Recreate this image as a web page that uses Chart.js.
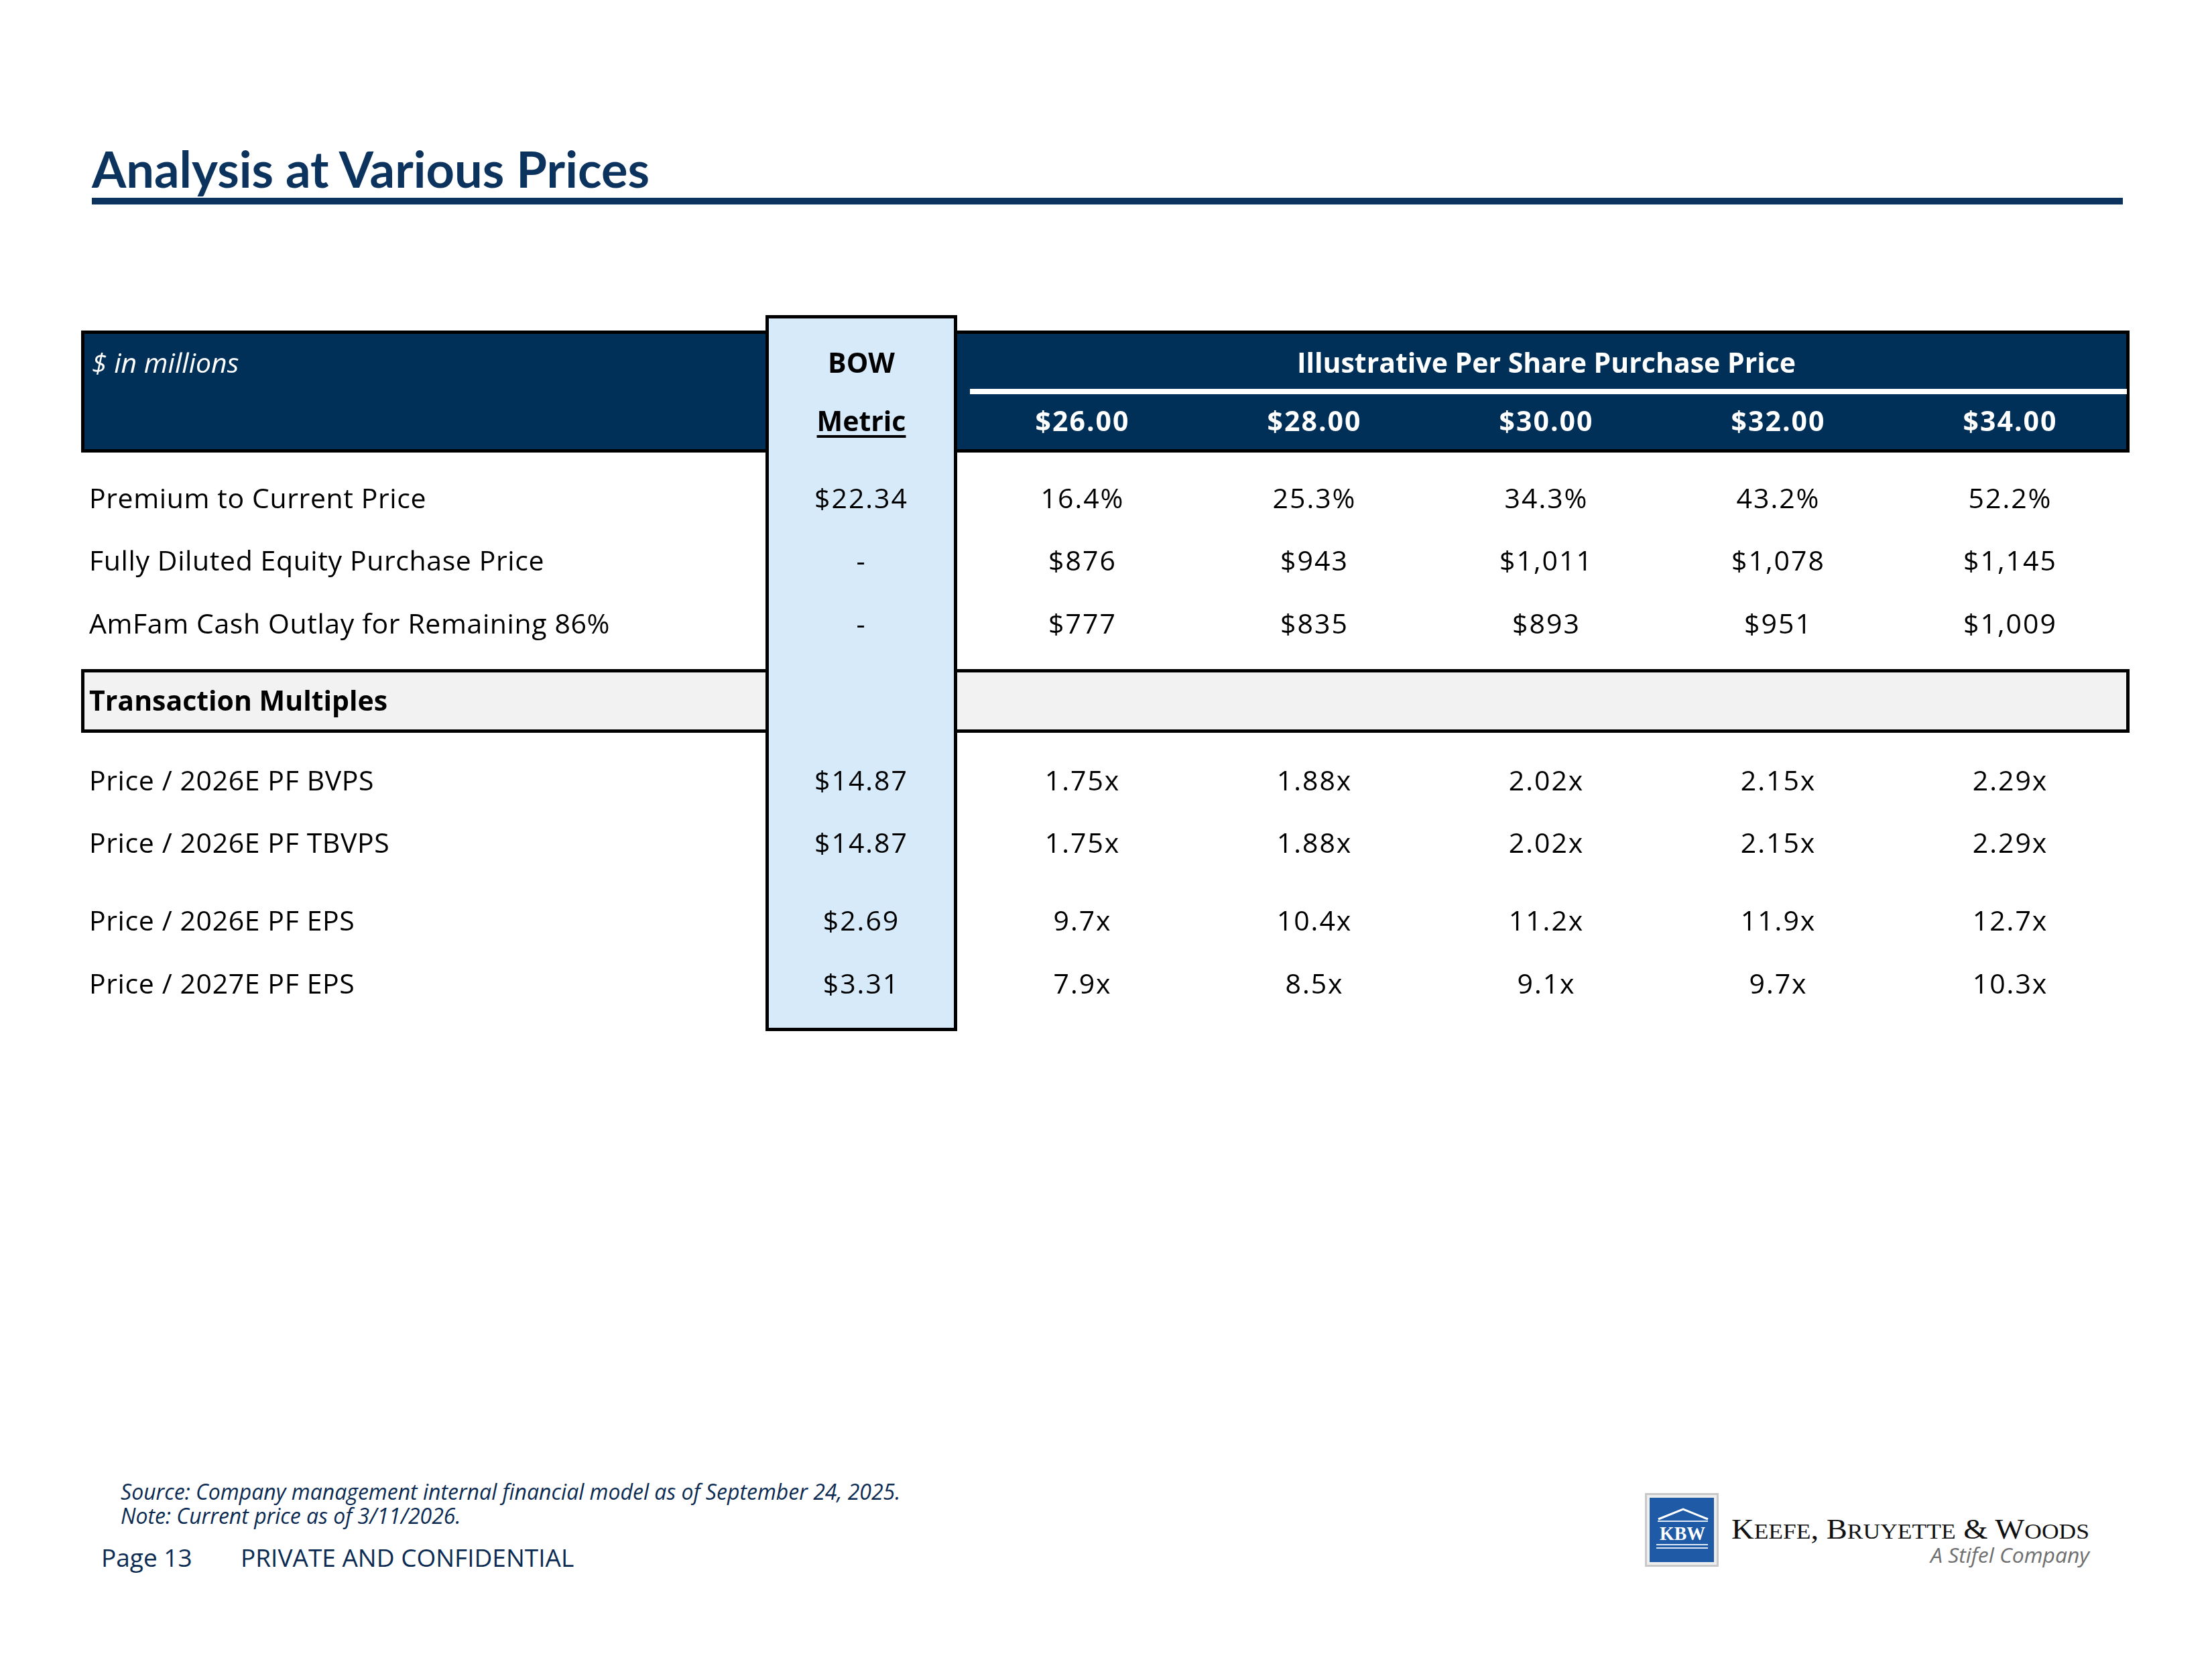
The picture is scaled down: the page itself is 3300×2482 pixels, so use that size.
<!DOCTYPE html>
<html>
<head>
<meta charset="utf-8">
<script src="https://cdn.jsdelivr.net/npm/chart.js@4.4.1/dist/chart.umd.min.js"></script>
<style>
  html, body { margin: 0; padding: 0; background: #fff; }
  body { width: 3300px; height: 2482px; position: relative; overflow: hidden; font-family: "Open Sans", sans-serif; }
  .abs { position: absolute; white-space: nowrap; line-height: 1; }
  #title { left: 137px; top: 207px; font: 700 74px Lato, sans-serif; color: #0c335e; }
  #rule { position: absolute; left: 137px; top: 295px; width: 3030px; height: 10px; background: #0c335e; }
  #wrap { position: absolute; left: 115px; top: 464px; width: 3068px; height: 1082px; }
  .note { left: 180px; font-style: italic; font-size: 32px; color: #0b2b52; }
  .page { top: 2304px; font-size: 37px; color: #0b2b52; }
  #logo { position: absolute; left: 2440px; top: 2210px; width: 700px; height: 140px; }
</style>
</head>
<body>
<div id="title" class="abs">Analysis at Various Prices</div>
<div id="rule"></div>

<div id="wrap"><canvas id="table" width="3068" height="1082" style="width:3068px;height:1082px"></canvas></div>

<div class="abs note" style="top:2209px">Source: Company management internal financial model as of September 24, 2025.</div>
<div class="abs note" style="top:2245px">Note: Current price as of 3/11/2026.</div>
<div class="abs page" style="left:151px">Page 13</div>
<div class="abs page" style="left:359px">PRIVATE AND CONFIDENTIAL</div>

<svg id="logo" viewBox="2440 2210 700 140" xmlns="http://www.w3.org/2000/svg">
  <rect x="2454" y="2227" width="110" height="110" fill="#c8c8c8"/>
  <rect x="2457" y="2230" width="104" height="104" fill="#eeeeee"/>
  <rect x="2461" y="2234" width="96" height="96" fill="#1f5aa6"/>
  <polyline points="2474,2266 2511,2251 2548,2266" fill="none" stroke="#fff" stroke-width="3"/>
  <line x1="2473" y1="2269" x2="2548" y2="2269" stroke="#dfe8f5" stroke-width="2"/>
  <text x="2510" y="2297" text-anchor="middle" fill="#fff" font-family="Liberation Serif" font-weight="700" font-size="30" textLength="68" lengthAdjust="spacingAndGlyphs">KBW</text>
  <line x1="2471" y1="2304" x2="2548" y2="2304" stroke="#dfe8f5" stroke-width="2"/>
  <line x1="2471" y1="2309" x2="2548" y2="2309" stroke="#dfe8f5" stroke-width="2"/>
  <text x="2583" y="2295" fill="#111" font-family="Liberation Serif" font-size="42" textLength="534" lengthAdjust="spacingAndGlyphs">K<tspan font-size="32">EEFE</tspan>, B<tspan font-size="32">RUYETTE</tspan> &amp; W<tspan font-size="32">OODS</tspan></text>
  <text x="3117" y="2331" text-anchor="end" fill="#6f6f6f" font-family="Open Sans" font-style="italic" font-size="31" textLength="237" lengthAdjust="spacingAndGlyphs">A Stifel Company</text>
</svg>

<script>
// ---- data ----
const priceHeaders = ['$26.00', '$28.00', '$30.00', '$32.00', '$34.00'];
const rowLabels = [
  'Premium to Current Price',
  'Fully Diluted Equity Purchase Price',
  'AmFam Cash Outlay for Remaining 86%',
  'Price / 2026E PF BVPS',
  'Price / 2026E PF TBVPS',
  'Price / 2026E PF EPS',
  'Price / 2027E PF EPS'
];
const bowMetric = [22.34, null, null, 14.87, 14.87, 2.69, 3.31];
const premiumPct = [16.4, 25.3, 34.3, 43.2, 52.2];
const equityPrice = [876, 943, 1011, 1078, 1145];
const cashOutlay = [777, 835, 893, 951, 1009];
const priceToBvps = [1.75, 1.88, 2.02, 2.15, 2.29];
const priceToTbvps = [1.75, 1.88, 2.02, 2.15, 2.29];
const priceToEps26 = [9.7, 10.4, 11.2, 11.9, 12.7];
const priceToEps27 = [7.9, 8.5, 9.1, 9.7, 10.3];

const pct = v => v.toFixed(1) + '%';
const usd = v => '$' + v.toLocaleString('en-US');
const usd2 = v => v == null ? '-' : '$' + v.toFixed(2);
const mult2 = v => v.toFixed(2) + 'x';
const mult1 = v => v.toFixed(1) + 'x';

const bodyRows = [
  [premiumPct, pct], [equityPrice, usd], [cashOutlay, usd],
  [priceToBvps, mult2], [priceToTbvps, mult2], [priceToEps26, mult1], [priceToEps27, mult1]
];

// ---- layout, in scale units (1 unit ~ 1 canvas px) ----
const L = {
  width: 3056, height: 1070,
  labelInset: 12, bowLeft: 1021, bowRight: 1307, priceLeft: 1321, priceW: 346, sepLeft: 1326,
  bowTop: 0, bowBottom: 1068, headTop: 23, headBottom: 205, sepTop: 110, sepBottom: 118,
  head1: 86, head2: 173, rowH: 93.5, gapBefore: [22, 0, 0, 140.5, 0, 22.5, 0],
  bandGap: 20.5, bandH: 95, bandAfter: 2, drop: 14
};
const FONT = '"Open Sans", sans-serif';
const NAVY = '#003057';

const rowCenters = [];
let band = null;
{
  let y = L.headBottom;
  L.gapBefore.forEach((g, i) => {
    y += g;
    rowCenters.push(y + L.rowH / 2);
    y += L.rowH;
    if (i === L.bandAfter) band = [y + L.bandGap, y + L.bandGap + L.bandH];
  });
}
const bowCenter = (L.bowLeft + L.bowRight) / 2;
const priceCenter = j => L.priceLeft + L.priceW * (j + 0.5);

const datasets = [
  { label: 'labels', align: 'left', spacing: '0.6px', data: rowLabels.map((_, i) => ({ x: L.labelInset, y: rowCenters[i] })), cellText: rowLabels },
  { label: 'BOW', align: 'center', spacing: '2px', data: bowMetric.map((_, i) => ({ x: bowCenter, y: rowCenters[i] })), cellText: bowMetric.map(usd2) },
  ...priceHeaders.map((h, j) => ({
    label: h, align: 'center', spacing: '2px',
    data: bodyRows.map((_, i) => ({ x: priceCenter(j), y: rowCenters[i] })),
    cellText: bodyRows.map(([arr, f]) => f(arr[j]))
  }))
];

const tablePlugin = {
  id: 'table',
  beforeDatasetsDraw(chart) {
    const { ctx, scales: { x, y } } = chart;
    const px = v => x.getPixelForValue(v), py = v => y.getPixelForValue(v);
    const box = (x0, y0, x1, y1, fill) => {
      ctx.fillStyle = fill;
      ctx.fillRect(px(x0), py(y0), px(x1) - px(x0), py(y1) - py(y0));
      ctx.lineWidth = 5;
      ctx.strokeStyle = '#000';
      ctx.strokeRect(px(x0) + 2.5, py(y0) + 2.5, px(x1) - px(x0) - 5, py(y1) - py(y0) - 5);
    };
    ctx.save();
    box(0, L.headTop, L.width, L.headBottom, NAVY);
    ctx.fillStyle = '#fff';
    ctx.fillRect(px(L.sepLeft), py(L.sepTop), px(L.width) - px(L.sepLeft) - 4, py(L.sepBottom) - py(L.sepTop));
    box(0, band[0], L.width, band[1], '#f2f2f2');
    box(L.bowLeft, L.bowTop, L.bowRight, L.bowBottom, '#d6eafa');
    ctx.restore();
  },
  afterDatasetsDraw(chart) {
    const { ctx, scales: { x, y } } = chart;
    const px = v => x.getPixelForValue(v), py = v => y.getPixelForValue(v);
    ctx.save();
    ctx.textBaseline = 'alphabetic';

    // header
    ctx.font = 'italic 41px ' + FONT;
    ctx.fillStyle = '#fff';
    ctx.textAlign = 'left';
    ctx.fillText('$ in millions', px(16), py(L.head1));
    ctx.font = 'bold 41px ' + FONT;
    ctx.textAlign = 'center';
    ctx.fillText('Illustrative Per Share Purchase Price', px(priceCenter(2)), py(L.head1));
    ctx.letterSpacing = '2px';
    priceHeaders.forEach((h, j) => ctx.fillText(h, px(priceCenter(j)), py(L.head2)));
    ctx.letterSpacing = '0px';
    ctx.fillStyle = '#000';
    ctx.fillText('BOW', px(bowCenter), py(L.head1));
    ctx.fillText('Metric', px(bowCenter), py(L.head2));
    const mw = ctx.measureText('Metric').width;
    ctx.fillRect(px(bowCenter) - mw / 2, py(L.head2) + 6, mw, 4);
    ctx.textAlign = 'left';
    ctx.fillText('Transaction Multiples', px(L.labelInset), py((band[0] + band[1]) / 2) + L.drop);

    // body cells, placed on the scatter points
    ctx.font = '41px ' + FONT;
    chart.data.datasets.forEach((ds, i) => {
      ctx.textAlign = ds.align;
      ctx.letterSpacing = ds.spacing;
      chart.getDatasetMeta(i).data.forEach((pt, k) => ctx.fillText(ds.cellText[k], pt.x, pt.y + L.drop));
    });
    ctx.restore();
  }
};

new Chart(document.getElementById('table'), {
  type: 'scatter',
  data: { datasets },
  options: {
    responsive: false,
    animation: false,
    devicePixelRatio: 1,
    events: [],
    layout: { padding: 6 },
    elements: { point: { radius: 0, hoverRadius: 0 } },
    plugins: { legend: { display: false }, tooltip: { enabled: false } },
    scales: {
      x: { type: 'linear', display: false, min: 0, max: L.width },
      y: { type: 'linear', display: false, min: 0, max: L.height, reverse: true }
    }
  },
  plugins: [tablePlugin]
});
</script>
</body>
</html>
